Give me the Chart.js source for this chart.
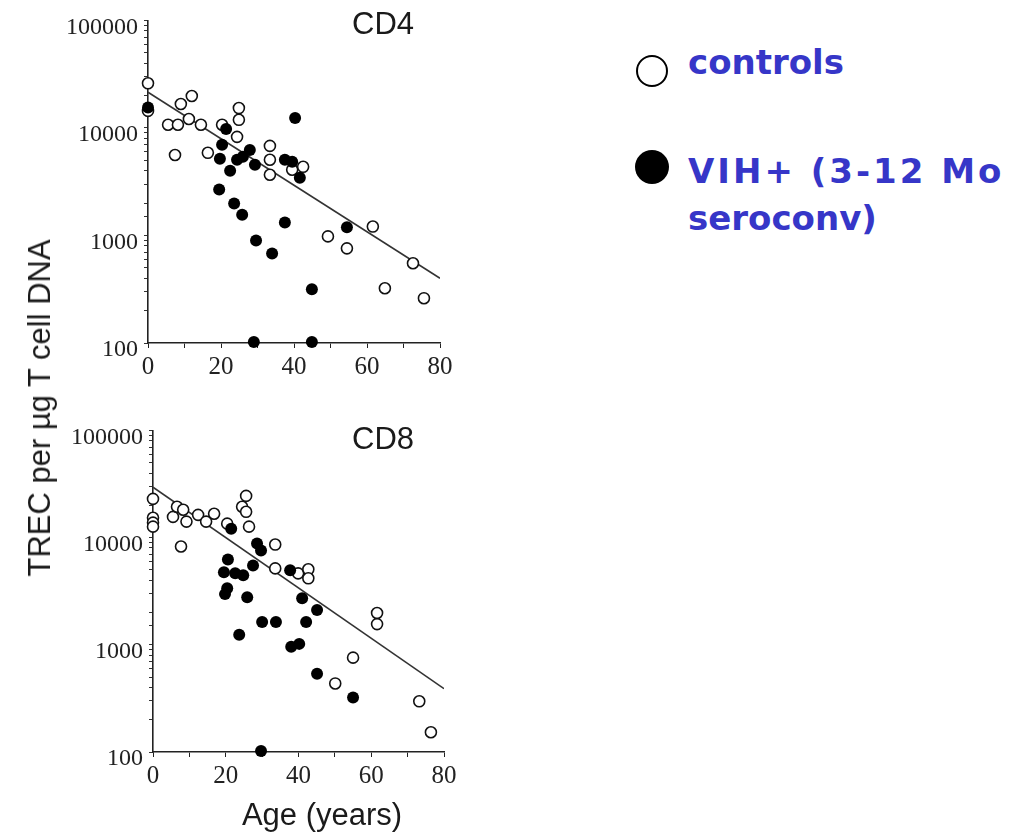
<!DOCTYPE html>
<html>
<head>
<meta charset="utf-8">
<script src="https://cdn.jsdelivr.net/npm/chart.js@4/dist/chart.umd.min.js"></script>
<style>
    body { margin: 0; background: #fff; }
    #page { position: relative; width: 1020px; height: 835px; overflow: hidden; background: #fff; }
    canvas { position: absolute; left: 0; }
    .txt { position: absolute; font-family: "Liberation Sans", Arial, sans-serif; color: #1a1a1a; white-space: nowrap; }
    .panel { font-size: 31px; transform: translate(-50%, -50%); }
    .legend { position: absolute; left: 688px; font-family: "DejaVu Sans", sans-serif; font-weight: bold; font-size: 34px; color: #3636c8; white-space: nowrap; line-height: 47px; }
    .dot { position: absolute; border-radius: 50%; box-sizing: border-box; transform: translate(-50%, -50%); }
</style>
</head>
<body>
<div id="page">
    <canvas id="cd4Chart" width="470" height="395" style="top:0px"></canvas>
    <canvas id="cd8Chart" width="470" height="390" style="top:410px"></canvas>

    <div class="txt panel" style="left:383px; top:24px">CD4</div>
    <div class="txt panel" style="left:383px; top:439px">CD8</div>
    <div class="txt" style="left:40px; top:408px; font-size:31px; transform: translate(-50%, -50%) rotate(-90deg)">TREC per µg T cell DNA</div>
    <div class="txt" style="left:322px; top:815px; font-size:31px; transform: translate(-50%, -50%)">Age (years)</div>

    <div class="dot" style="left:652px; top:71px; width:32px; height:32px; border:2px solid #000; background:#fff"></div>
    <div class="legend" style="top:39px">controls</div>
    <div class="dot" style="left:652px; top:167px; width:34px; height:34px; background:#000"></div>
    <div class="legend" style="top:148px"><span style="letter-spacing:3px">VIH+ (3-12 Mo</span><br>seroconv)</div>
</div>

<script>
// tick labels
const yMajorTicks = [100, 1000, 10000, 100000];
const xMajorTicks = [0, 20, 40, 60, 80];

// CD4 panel
const cd4ControlAge  = [0, 0, 5.5, 8.2, 9.0, 12.0, 11.2, 14.5, 7.4, 16.4, 20.3, 24.9, 24.9, 24.4, 33.4, 33.4, 33.4, 39.5, 42.5, 49.3, 54.5, 61.6, 72.6, 64.9, 75.6];
const cd4ControlTrec = [26000, 14400, 10700, 10700, 16700, 19800, 12100, 10700, 5600, 5870, 10700, 15300, 11900, 8260, 6810, 5060, 3670, 4080, 4350, 980, 759, 1210, 551, 323, 261];
const cd4HivAge  = [0, 40.3, 21.4, 20.3, 19.7, 24.4, 27.9, 29.3, 26.0, 22.5, 19.5, 37.5, 39.5, 41.6, 23.6, 25.8, 37.5, 29.6, 34.0, 54.5, 44.9, 29.0, 44.9];
const cd4HivTrec = [15500, 12400, 9790, 6960, 5160, 5060, 6250, 4540, 5390, 4000, 2670, 5060, 4840, 3440, 1980, 1560, 1320, 899, 681, 1190, 316, 102, 102];
const cd4FitAge  = [0, 80];
const cd4FitTrec = [21500, 400];

// CD8 panel
const cd8ControlAge  = [0, 0, 0, 0, 5.5, 6.6, 8.3, 9.2, 12.4, 14.6, 16.8, 7.7, 20.4, 24.5, 25.6, 25.6, 26.4, 33.6, 33.6, 39.9, 42.7, 42.7, 61.6, 61.6, 55.0, 50.1, 73.2, 76.4];
const cd8ControlTrec = [22960, 15300, 13800, 12650, 15600, 19400, 18200, 14100, 16300, 14100, 16700, 8260, 13500, 19400, 24500, 17400, 12650, 8610, 5160, 4640, 5060, 4170, 1980, 1560, 759, 436, 297, 153];
const cd8HivAge  = [21.5, 28.6, 29.7, 20.6, 19.5, 22.6, 24.8, 27.5, 20.4, 19.8, 25.9, 37.7, 41.0, 45.1, 30.0, 33.8, 42.1, 23.7, 38.0, 40.2, 45.1, 55.0, 29.7];
const cd8HivTrec = [12100, 8790, 7590, 6250, 4740, 4640, 4450, 5500, 3370, 2970, 2780, 4950, 2720, 2110, 1630, 1630, 1630, 1240, 958, 1020, 538, 323, 102];
const cd8FitAge  = [0, 80];
const cd8FitTrec = [29500, 390];

function toPoints(xs, ys) {
    return xs.map((x, i) => ({ x: x, y: ys[i] }));
}

function createPanel(canvasId, controlAge, controlTrec, hivAge, hivTrec, fitAge, fitTrec, box) {
    const ctx = document.getElementById(canvasId).getContext('2d');
    return new Chart(ctx, {
        type: 'scatter',
        data: {
            datasets: [{
                label: 'fit',
                data: toPoints(fitAge, fitTrec),
                showLine: true,
                borderColor: '#333',
                borderWidth: 1.6,
                pointRadius: 0,
                order: 3
            }, {
                label: 'controls',
                data: toPoints(controlAge, controlTrec),
                pointRadius: 5.5,
                pointBorderWidth: 1.6,
                pointBackgroundColor: '#fff',
                pointBorderColor: '#111',
                clip: false,
                order: 2
            }, {
                label: 'VIH+',
                data: toPoints(hivAge, hivTrec),
                pointRadius: 6,
                pointBorderWidth: 0,
                pointBackgroundColor: '#000',
                pointBorderColor: '#000',
                clip: false,
                order: 1
            }]
        },
        options: {
            responsive: false,
            animation: false,
            devicePixelRatio: 1,
            layout: {
                padding: { left: 0, top: box.top, right: box.right, bottom: 0 }
            },
            plugins: {
                legend: { display: false },
                tooltip: { enabled: false }
            },
            scales: {
                x: {
                    type: 'linear',
                    min: 0,
                    max: 80,
                    afterFit: (scale) => { scale.height = box.xHeight; },
                    grid: { drawOnChartArea: false, tickLength: 5, color: '#222' },
                    border: { color: '#222', width: 1.6 },
                    ticks: {
                        stepSize: 10,
                        autoSkip: false,
                        maxRotation: 0,
                        padding: 4,
                        color: '#222',
                        font: { family: 'Liberation Serif', size: 25 },
                        callback: (value) => xMajorTicks.includes(value) ? String(value) : ''
                    }
                },
                y: {
                    type: 'logarithmic',
                    min: 100,
                    max: 100000,
                    afterFit: (scale) => { scale.width = box.yWidth; },
                    grid: { drawOnChartArea: false, tickLength: 4, color: '#333' },
                    border: { color: '#222', width: 1.6 },
                    ticks: {
                        autoSkip: false,
                        padding: 6,
                        labelOffset: 7,
                        color: '#222',
                        font: { family: 'Liberation Serif', size: 24 },
                        callback: (value) => yMajorTicks.includes(value) ? String(value) : ''
                    }
                }
            }
        }
    });
}

createPanel('cd4Chart', cd4ControlAge, cd4ControlTrec, cd4HivAge, cd4HivTrec, cd4FitAge, cd4FitTrec,
    { top: 18, right: 30, yWidth: 148, xHeight: 52 });
createPanel('cd8Chart', cd8ControlAge, cd8ControlTrec, cd8HivAge, cd8HivTrec, cd8FitAge, cd8FitTrec,
    { top: 18, right: 26, yWidth: 153, xHeight: 48 });
</script>
</body>
</html>
